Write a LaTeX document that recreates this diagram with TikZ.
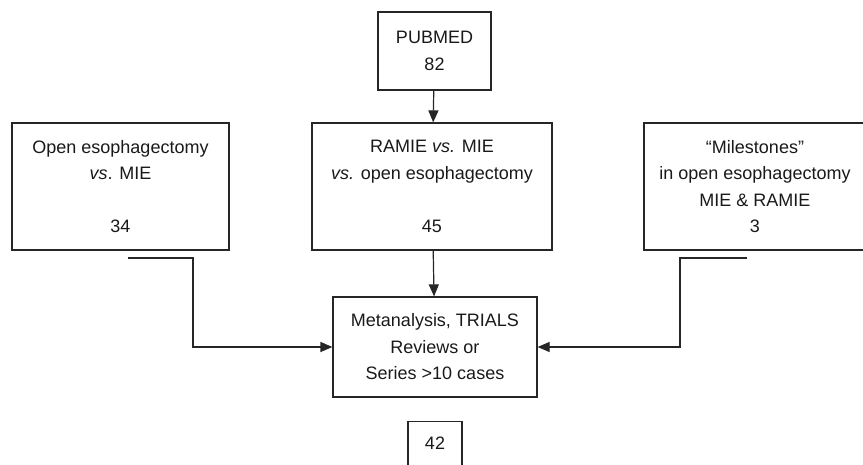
\documentclass[tikz,border=0pt]{standalone}
\usepackage{fontspec}
\setmainfont{Liberation Sans}
\usetikzlibrary{arrows.meta}

\begin{document}
\begin{tikzpicture}[x=1pt, y=-1pt,
  box/.style={draw=black!85, line width=1.2pt, inner sep=0pt, align=center, text=black!90, font=\fontsize{18}{26.5}\selectfont},
  link/.style={draw=black!85, line width=1.2pt, -{Triangle[length=12pt, width=10pt]}}]
\useasboundingbox (0,0) rectangle (863,465);
\node[box, minimum width=113pt, minimum height=78pt](pub) at (434.5,51){PUBMED\\82};
\node[box, minimum width=217pt, minimum height=127pt](open) at (120.5,186.5){Open esophagectomy\\\textit{vs}. MIE\\\mbox{}\\34};
\node[box, minimum width=240pt, minimum height=127pt](ramie) at (432,186.5){RAMIE \textit{vs.} MIE\\\textit{vs.} open esophagectomy\\\mbox{}\\45};
\node[box, minimum width=222pt, minimum height=127pt](mile) at (755,186.5){``Milestones''\\in open esophagectomy\\MIE \& RAMIE\\3};
\node[box, minimum width=204pt, minimum height=100pt](meta) at (435,347){Metanalysis, TRIALS\\Reviews or\\Series >10 cases};
\node[box, minimum width=54pt, text height=28pt, text depth=30pt, anchor=north](res) at (435,421){42};
\coordinate (lfoot) at (128,258);
\coordinate (lknee) at (193,258);
\coordinate (rfoot) at (747,258);
\coordinate (rknee) at (680,258);
\draw [link](pub) -- (ramie);
\draw [link](ramie) -- (meta);
\draw [link](lfoot) -- (lknee) |- (meta.west);
\draw [link](rfoot) -- (rknee) |- (meta.east);
\end{tikzpicture}
\end{document}
